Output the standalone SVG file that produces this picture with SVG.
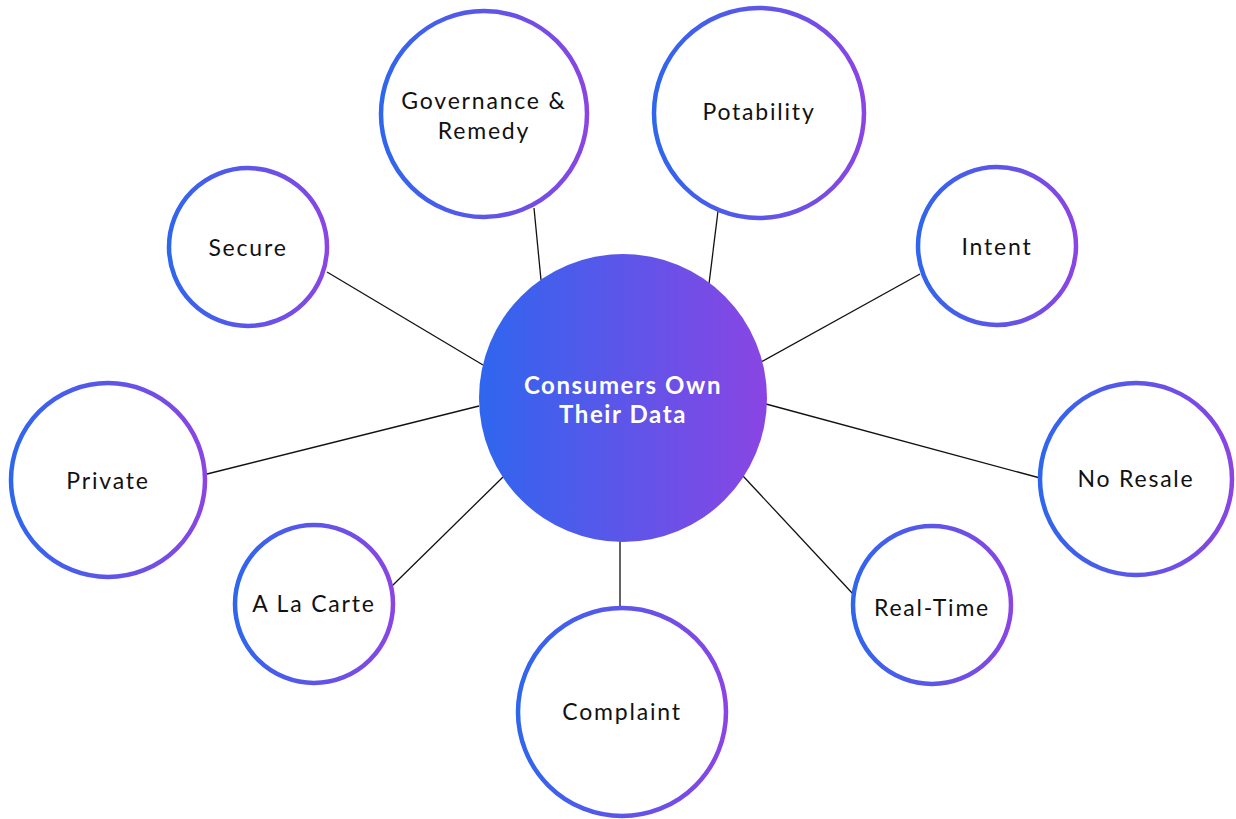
<svg xmlns="http://www.w3.org/2000/svg" width="1236" height="819" viewBox="0 0 1236 819">
<defs>
<linearGradient id="g" x1="0" y1="0" x2="1" y2="0">
<stop offset="0" stop-color="#2f66ee"/>
<stop offset="1" stop-color="#8a45e4"/>
</linearGradient>
<style>
.n{fill:#fff;stroke:url(#g);stroke-width:4.5}
.t{font-family:Lato,"Open Sans",sans-serif;font-size:23px;letter-spacing:1.8px;fill:#111;text-anchor:middle}
.c{font-family:Lato,"Open Sans",sans-serif;font-size:24px;letter-spacing:1.6px;font-weight:bold;fill:#fff;text-anchor:middle}
.l{stroke:#111;stroke-width:1.3}
</style>
</defs>
<rect width="1236" height="819" fill="#fff"/>
<g id="connectors">
<line class="l" x1="534" y1="208" x2="541" y2="280"/>
<line class="l" x1="718" y1="211" x2="709" y2="284"/>
<line class="l" x1="327" y1="272" x2="483" y2="365"/>
<line class="l" x1="920" y1="274" x2="761" y2="362"/>
<line class="l" x1="207" y1="474" x2="479" y2="406"/>
<line class="l" x1="766" y1="404" x2="1040" y2="478"/>
<line class="l" x1="392" y1="586" x2="503" y2="477"/>
<line class="l" x1="743" y1="476" x2="853" y2="594"/>
<line class="l" x1="620" y1="541" x2="620" y2="609"/>
</g>
<g id="center">
<circle cx="623" cy="398" r="144" fill="url(#g)"/>
<text class="c" x="623" y="394">Consumers Own</text>
<text class="c" x="623" y="423">Their Data</text>
</g>
<g id="governance">
<circle class="n" cx="484" cy="114" r="103"/>
<text class="t" x="484" y="109">Governance &amp;</text>
<text class="t" x="484" y="139">Remedy</text>
</g>
<g id="potability">
<circle class="n" cx="759" cy="113" r="105"/>
<text class="t" x="759" y="120">Potability</text>
</g>
<g id="secure">
<circle class="n" cx="248" cy="247" r="79"/>
<text class="t" x="248" y="256">Secure</text>
</g>
<g id="intent">
<circle class="n" cx="997" cy="246" r="79"/>
<text class="t" x="997" y="255">Intent</text>
</g>
<g id="private">
<circle class="n" cx="108" cy="480" r="97"/>
<text class="t" x="108" y="489">Private</text>
</g>
<g id="noresale">
<circle class="n" cx="1136" cy="479" r="96"/>
<text class="t" x="1136" y="487">No Resale</text>
</g>
<g id="alacarte">
<circle class="n" cx="314" cy="604" r="79"/>
<text class="t" x="314" y="612">A La Carte</text>
</g>
<g id="realtime">
<circle class="n" cx="932" cy="605" r="79"/>
<text class="t" x="932" y="616">Real-Time</text>
</g>
<g id="complaint">
<circle class="n" cx="622" cy="712" r="104"/>
<text class="t" x="622" y="720">Complaint</text>
</g>
</svg>
